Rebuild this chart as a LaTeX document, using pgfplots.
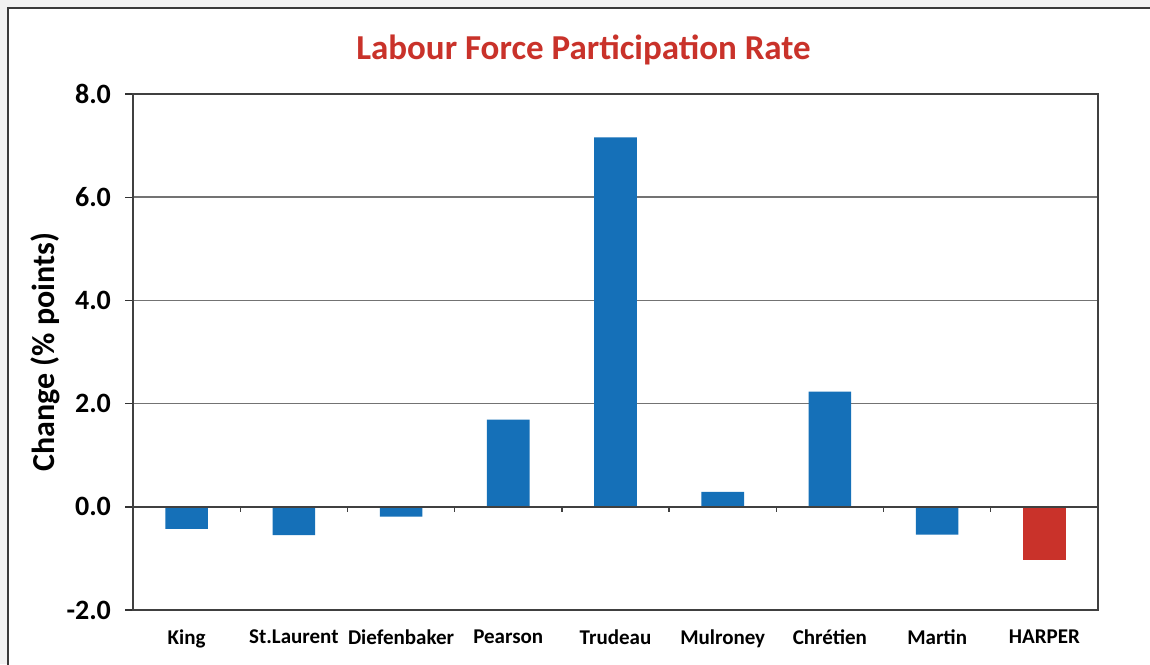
\documentclass[border=0pt]{standalone}
\usepackage{pgfplots}
\pgfplotsset{compat=1.18}
\usepackage{fontspec}
\setmainfont{Carlito}
\definecolor{barblue}{HTML}{1570B8}
\definecolor{barred}{HTML}{C9322A}
\definecolor{framegray}{HTML}{3A3A3A}
\begin{document}
\begin{tikzpicture}
\useasboundingbox (0,0) rectangle (575pt,332pt);
\fill[black!5] (0,0) rectangle (575pt,332pt);
\draw[line width=1.3pt, framegray, fill=white] (4pt,-20pt) rectangle (600pt,328pt);
\node[anchor=base, text=barred, font=\bfseries\fontsize{17.5}{20}\selectfont] at (291.75pt,302pt) {Labour Force Participation Rate};
\begin{axis}[
  at={(66.5pt,27pt)}, anchor=south west,
  scale only axis, width=482.5pt, height=258pt,
  xmin=-0.5, xmax=8.5, ymin=-2, ymax=8,
  ytick={-2,0,2,4,6,8},
  ytick pos=left,
  xtick={0,1,2,3,4,5,6,7,8},
  xticklabels={King,St.Laurent,Diefenbaker,Pearson,Trudeau,Mulroney,Chrétien,Martin,HARPER},
  xtick style={draw=none},
  ytick style={black!80, line width=0.7pt},
  tick align=outside, major tick length=4pt,
  ymajorgrids, grid style={black!55, line width=0.8pt},
  axis line style={black!75, line width=0.8pt},
  /pgf/number format/assume math mode=true,
  yticklabel={\pgfmathprintnumber[fixed,fixed zerofill,precision=1]{\tick}},
  yticklabel style={font=\bfseries\fontsize{14}{16}\selectfont, xshift=-3.5pt},
  xticklabel style={font=\bfseries\fontsize{10.5}{12}\selectfont, yshift=-2.5pt},
  ylabel={Change (\% points)},
  ylabel style={at={(axis description cs:-0.0912,0.5)}, anchor=center, font=\bfseries\fontsize{16}{18}\selectfont},
  ybar, bar width=21.3pt,
  clip=false,
]
\addplot[ybar, bar shift=0pt, fill=barblue, draw=none] coordinates {
  (0,-0.43) (1,-0.55) (2,-0.19) (3,1.69) (4,7.16) (5,0.29) (6,2.23) (7,-0.54)
};
\addplot[ybar, bar shift=0pt, fill=barred, draw=none] coordinates {
  (8,-1.04)
};
\draw[black!75, line width=0.8pt] (axis cs:-0.5,0) -- (axis cs:8.5,0);
\pgfplotsinvokeforeach{0.5,1.5,2.5,3.5,4.5,5.5,6.5,7.5,8.5}{
  \draw[black!75, line width=0.7pt] (axis cs:#1,0) -- ([yshift=-2.5pt]axis cs:#1,0);
}
\end{axis}
\end{tikzpicture}
\end{document}
